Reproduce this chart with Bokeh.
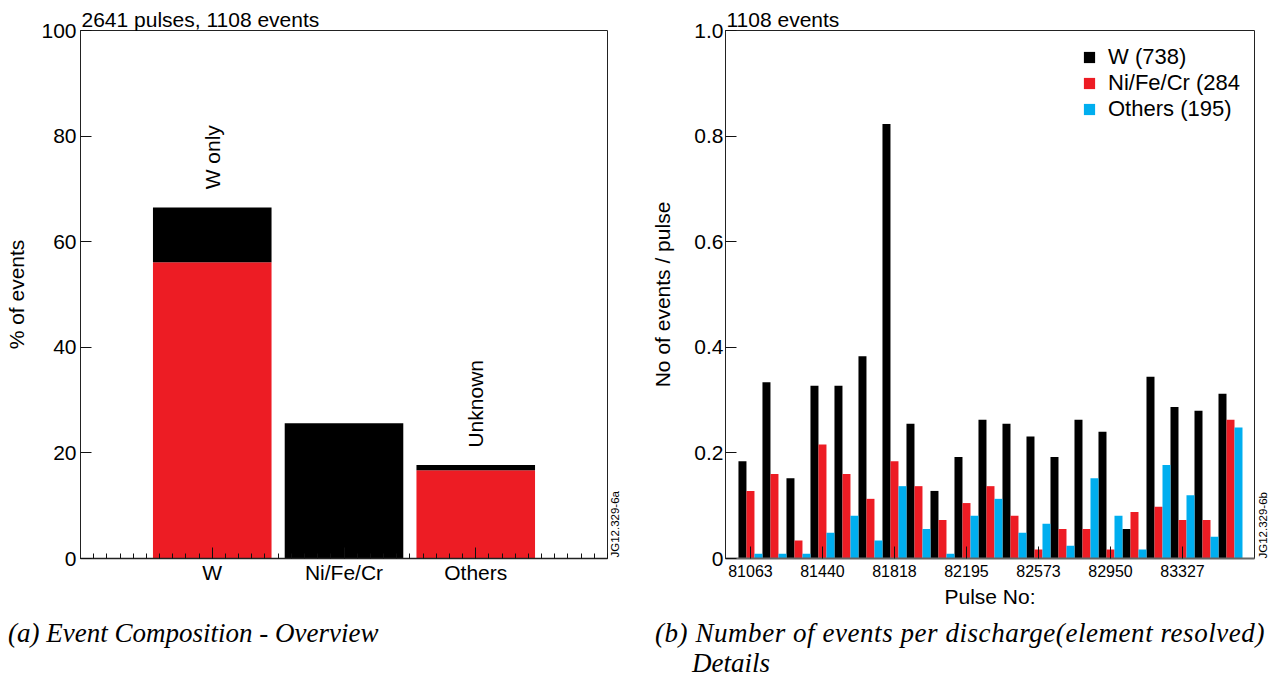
import math
from bokeh.plotting import figure
from bokeh.models import (Range1d, FixedTicker, Label, Legend, LegendItem, Div,
                          ColumnDataSource)
from bokeh.layouts import column, row
from bokeh.embed import file_html
from bokeh.resources import INLINE
from bokeh.transform import dodge

# ---------------- data ----------------
# (a) event composition overview (% of events), stacked: red bottom, black top
comp_categories = ["W", "Ni/Fe/Cr", "Others"]
comp_red = [56.1, 0.0, 16.7]
comp_black = [10.4, 25.6, 1.0]
comp_notes = ["W only", "", "Unknown"]
comp_note_y = [76.0, None, 29.3]
left_title = "2641 pulses, 1108 events"
left_tag = "JG12.329-6a"

# (b) number of events per pulse, per pulse-number bin
pulse_tick_labels = ["81063", "81440", "81818", "82195", "82573", "82950", "83327"]
w_rate = [0.184, 0.334, 0.152, 0.327, 0.327, 0.383, 0.823, 0.255, 0.128, 0.192,
          0.263, 0.255, 0.231, 0.192, 0.263, 0.240, 0.056, 0.344, 0.287, 0.280, 0.312]
nifecr_rate = [0.128, 0.160, 0.034, 0.216, 0.160, 0.113, 0.184, 0.137, 0.073, 0.105,
               0.137, 0.081, 0.017, 0.056, 0.056, 0.017, 0.088, 0.098, 0.073, 0.073, 0.263]
others_rate = [0.009, 0.009, 0.009, 0.049, 0.081, 0.034, 0.137, 0.056, 0.009, 0.081,
               0.113, 0.049, 0.066, 0.024, 0.152, 0.081, 0.017, 0.177, 0.120, 0.041, 0.248]
legend_labels = ["W (738)", "Ni/Fe/Cr (284", "Others (195)"]
right_title = "1108 events"
right_tag = "JG12.329-6b"

captions_a = "(a) Event Composition - Overview"
captions_b = ["(b) Number of events per discharge(element resolved)", "Details"]

# ---------------- style ----------------
RED = "#ED1C24"
BLUE = "#00AEEF"
BLACK = "#000000"
FONT = "Liberation Sans"
SERIF = "Liberation Serif"
FIG_H = 614
BOTTOM = 56


def style_common(p, title):
    p.xgrid.visible = False
    p.ygrid.visible = False
    p.outline_line_color = "#222222"
    p.outline_line_width = 1
    p.background_fill_color = "white"
    p.border_fill_color = "white"
    p.title.text = title
    p.title.align = "left"
    p.title.text_font = FONT
    p.title.text_font_size = "21px"
    p.title.text_font_style = "normal"
    p.title.text_color = "black"
    p.title.standoff = 0
    p.title.offset = 1
    for ax in (p.xaxis[0], p.yaxis[0]):
        ax.major_tick_out = 0
        ax.minor_tick_out = 0
        ax.major_label_text_font = FONT
        ax.axis_label_text_font = FONT
        ax.axis_label_text_font_style = "normal"
        ax.axis_line_color = "#222222"
        ax.major_tick_line_color = "#111111"
        ax.minor_tick_line_color = "#111111"
        ax.major_label_text_color = "black"
        ax.axis_label_text_color = "black"


def tag_div(text, width, left, bottom):
    html = (f"<div style=\"position:relative;width:{width}px;height:{FIG_H}px;\">"
            f"<div style=\"position:absolute;left:{left}px;bottom:{bottom}px;"
            f"writing-mode:vertical-rl;transform:rotate(180deg);font-family:'{FONT}';"
            f"font-size:11.5px;line-height:11px;white-space:nowrap;color:black;\">{text}</div></div>")
    return Div(text=html, width=width, height=FIG_H, margin=(0, 0, 0, 0))


# ---------------- figure (a) ----------------
p1 = figure(width=610, height=FIG_H, x_range=Range1d(0, 4), y_range=Range1d(0, 100),
            output_backend="svg", toolbar_location=None,
            min_border_left=80, min_border_right=3, min_border_top=30, min_border_bottom=BOTTOM)
style_common(p1, left_title)
pos1 = [i + 1 for i in range(len(comp_categories))]
src1 = ColumnDataSource(dict(x=pos1, red=comp_red, black=comp_black))
p1.vbar_stack(["red", "black"], x="x", width=0.9, color=[RED, BLACK], line_width=0, source=src1)

xa = p1.xaxis[0]
xa.ticker = FixedTicker(ticks=pos1, minor_ticks=[i / 10 for i in range(41)])
xa.major_label_overrides = {x: c for x, c in zip(pos1, comp_categories)}
xa.major_tick_in = 11
xa.minor_tick_in = 5
xa.major_label_text_font_size = "21px"
xa.major_label_standoff = 2
xa.axis_line_width = 1.5

ya = p1.yaxis[0]
ya.ticker = FixedTicker(ticks=[0, 20, 40, 60, 80, 100])
ya.major_tick_in = 11
ya.minor_tick_in = 0
ya.major_label_text_font_size = "21px"
ya.major_label_standoff = 4
ya.axis_label = "% of events"
ya.axis_label_text_font_size = "21px"
ya.axis_label_standoff = 10

for x, note, ny in zip(pos1, comp_notes, comp_note_y):
    if note:
        p1.add_layout(Label(x=x, y=ny, text=note, angle=math.pi / 2, text_align="center",
                            text_baseline="middle", text_font=FONT, text_font_size="21px",
                            text_color="black"))

# ---------------- figure (b) ----------------
p2 = figure(width=616, height=FIG_H, x_range=Range1d(-1.04, 21.0), y_range=Range1d(0, 1),
            output_backend="svg", toolbar_location=None,
            min_border_left=85, min_border_right=2, min_border_top=30, min_border_bottom=BOTTOM)
style_common(p2, right_title)
idx = list(range(len(w_rate)))
src2 = ColumnDataSource(dict(idx=idx, w=w_rate, n=nifecr_rate, o=others_rate))
bw = 1 / 3
r_w = p2.vbar(x=dodge("idx", -bw), top="w", width=bw, color=BLACK, line_width=0, source=src2)
r_n = p2.vbar(x="idx", top="n", width=bw, color=RED, line_width=0, source=src2)
r_o = p2.vbar(x=dodge("idx", bw), top="o", width=bw, color=BLUE, line_width=0, source=src2)

tick_pos = [3 * i for i in range(len(pulse_tick_labels))]
xb = p2.xaxis[0]
xb.ticker = FixedTicker(ticks=tick_pos)
xb.major_label_overrides = {t: l for t, l in zip(tick_pos, pulse_tick_labels)}
xb.major_tick_in = 12
xb.major_label_text_font_size = "16px"
xb.major_label_standoff = 6
xb.axis_label = "Pulse No:"
xb.axis_label_text_font_size = "21px"
xb.axis_label_standoff = 5
xb.axis_line_color = "#666666"
xb.axis_line_width = 2

yticks = [0, 0.2, 0.4, 0.6, 0.8, 1.0]
yb = p2.yaxis[0]
yb.ticker = FixedTicker(ticks=yticks)
yb.major_label_overrides = {t: ("0" if t == 0 else f"{t:.1f}") for t in yticks}
yb.major_tick_in = 11
yb.major_label_text_font_size = "21px"
yb.major_label_standoff = 2
yb.axis_label = "No of events / pulse"
yb.axis_label_text_font_size = "21px"
yb.axis_label_standoff = 17

legend = Legend(items=[LegendItem(label=legend_labels[0], renderers=[r_w]),
                       LegendItem(label=legend_labels[1], renderers=[r_n]),
                       LegendItem(label=legend_labels[2], renderers=[r_o])],
                location=(357, 436), padding=0, margin=0, spacing=0,
                glyph_width=14, glyph_height=14, label_height=21, label_standoff=12,
                label_text_font=FONT, label_text_font_size="22px", label_text_color="black",
                border_line_color=None, background_fill_alpha=0)
p2.add_layout(legend)

# ---------------- side tags and captions ----------------
tag_a = tag_div(left_tag, 30, 0, BOTTOM + 1)
tag_b = tag_div(right_tag, 12, 2, BOTTOM)

cap_h = 680 - FIG_H - 2
cap_style = (f"font-family:'{SERIF}';font-style:italic;font-size:27px;line-height:30px;"
             f"white-space:nowrap;color:black;padding-top:{633 - 15 - FIG_H}px;")
cap_a = Div(text=f"<div style=\"{cap_style}padding-left:8px;\">{captions_a}</div>",
            width=640, height=cap_h, margin=(0, 0, 0, 0))
cap_b = Div(text=(f"<div style=\"{cap_style}padding-left:15px;\">"
                  f"<span style=\"letter-spacing:0.55px\">{captions_b[0]}</span><br>"
                  f"<span style=\"padding-left:37px\">{captions_b[1]}</span></div>"),
            width=626, height=cap_h, margin=(0, 0, 0, 0))

layout = column(row(p1, tag_a, p2, tag_b, spacing=0), row(cap_a, cap_b, spacing=0), spacing=0)

with open("out.html", "w") as f:
    f.write(file_html(layout, INLINE))
